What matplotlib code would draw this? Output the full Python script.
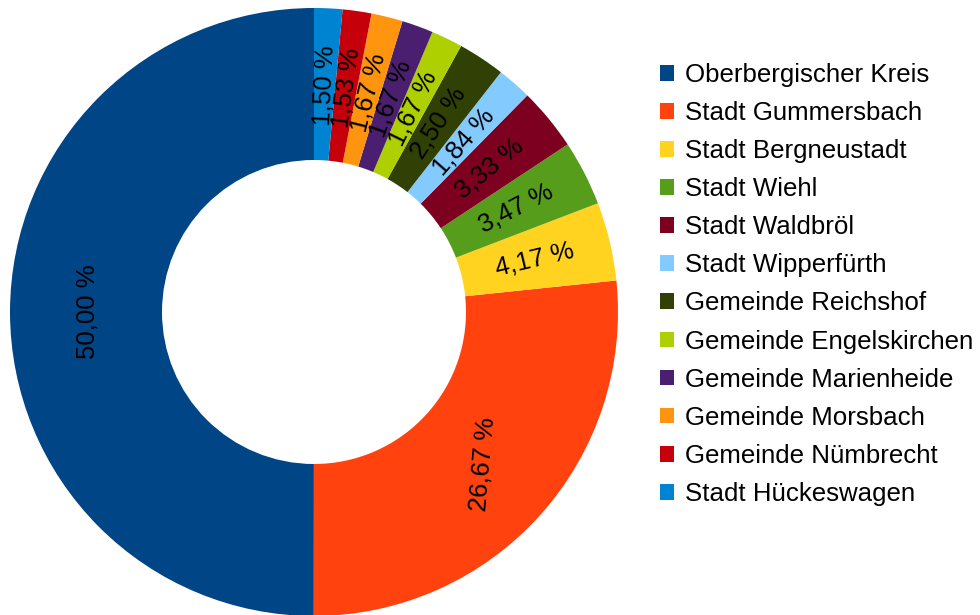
import matplotlib
matplotlib.use("Agg")
import matplotlib.pyplot as plt
from matplotlib.patches import Rectangle
import numpy as np

plt.rcParams['font.family'] = ['Liberation Sans', 'DejaVu Sans']

names = ["Oberbergischer Kreis", "Stadt Gummersbach", "Stadt Bergneustadt", "Stadt Wiehl",
         "Stadt Waldbröl", "Stadt Wipperfürth", "Gemeinde Reichshof", "Gemeinde Engelskirchen",
         "Gemeinde Marienheide", "Gemeinde Morsbach", "Gemeinde Nümbrecht", "Stadt Hückeswagen"]
shares = [50.00, 26.67, 4.17, 3.47, 3.33, 1.84, 2.50, 1.67, 1.67, 1.67, 1.53, 1.50]
colors = ["#004586", "#ff420e", "#ffd320", "#579d1c", "#7e0021", "#83caff",
          "#314004", "#aecf00", "#4b1f6f", "#ff950e", "#c5000b", "#0084d1"]

W, H = 980, 615
fig = plt.figure(figsize=(W / 100, H / 100), dpi=100)
cx, cy, R = 314, 312, 304
ax = fig.add_axes([(cx - R) / W, (H - cy - R) / H, 2 * R / W, 2 * R / H])

wedges, _ = ax.pie(shares, colors=colors, startangle=90, counterclock=True, radius=1,
                   wedgeprops=dict(width=0.5, linewidth=0), normalize=True)
ax.set_xlim(-1, 1)
ax.set_ylim(-1, 1)
ax.set_aspect('equal')
ax.axis('off')

for i, (w, v) in enumerate(zip(wedges, shares)):
    mid = (w.theta1 + w.theta2) / 2.0
    r = 0.745
    x = r * np.cos(np.radians(mid))
    y = r * np.sin(np.radians(mid))
    rot = ((mid + 180) % 360) - 180
    if i == 0:
        rot = 90
    elif i == 1:
        rot = 85
    label = f"{v:.2f}".replace('.', ',') + " %"
    ax.text(x, y, label, rotation=rot, rotation_mode='anchor', ha='center', va='center',
            fontsize=18.5, color='black')

handles = [Rectangle((0, 0), 1, 1, facecolor=c, edgecolor='none') for c in colors]
fig.legend(handles, names, loc='upper left', bbox_to_anchor=(660 / W, 1 - 63 / H),
           bbox_transform=fig.transFigure, frameon=False, fontsize=18.6, borderpad=0,
           handlelength=0.56, handleheight=0.56, handletextpad=0.42, labelspacing=0.545,
           borderaxespad=0)

fig.savefig("out.png", dpi=100)
